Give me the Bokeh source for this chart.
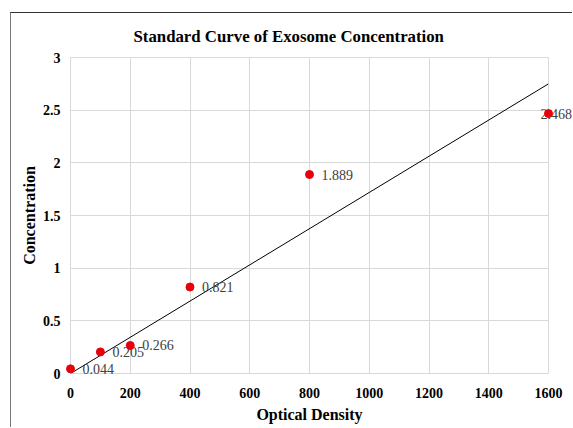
from bokeh.plotting import figure
from bokeh.models import ColumnDataSource, Range1d, FixedTicker
from bokeh.embed import file_html
from bokeh.resources import INLINE
from bokeh.core.properties import value

# ---- data ----
optical_density = [0, 100, 200, 400, 800, 1600]
concentration = [0.044, 0.205, 0.266, 0.821, 1.889, 2.468]
point_labels = ["0.044", "0.205", "0.266", "0.821", "1.889", "2.468"]
trend_x = [0, 1600]
trend_y = [0.0, 2.75]
x_ticks = [0, 200, 400, 600, 800, 1000, 1200, 1400, 1600]
y_ticks = [0, 0.5, 1, 1.5, 2, 2.5, 3]
y_tick_labels = ["0", "0.5", "1", "1.5", "2", "2.5", "3"]

FONT = "Liberation Serif"

p = figure(width=562, height=415, output_backend="svg", toolbar_location=None,
           x_range=Range1d(0, 1600), y_range=Range1d(0, 3),
           min_border_left=59, min_border_right=25, min_border_top=43, min_border_bottom=55)
p.styles = {"border-top": "1px solid #333333", "border-left": "1px solid #777777",
            "margin-left": "10px", "margin-top": "12px"}

p.title.text = "Standard Curve of Exosome Concentration"
p.title.text_font = FONT
p.title.text_font_size = "16.8px"
p.title.text_font_style = "bold"
p.title.text_color = "#000000"
p.title.align = "left"
p.title.offset = 63
p.title.standoff = 23

p.outline_line_color = "#d9d9d9"
p.background_fill_color = "white"
p.border_fill_color = "white"

for ax in (p.xaxis[0], p.yaxis[0]):
    ax.axis_line_color = None
    ax.major_tick_line_color = None
    ax.minor_tick_line_color = None
    ax.major_tick_out = 0
    ax.major_tick_in = 0
    ax.major_label_text_font = FONT
    ax.major_label_text_font_style = "bold"
    ax.major_label_text_font_size = "14px"
    ax.major_label_text_color = "#000000"
    ax.axis_label_text_font = FONT
    ax.axis_label_text_font_style = "bold"
    ax.axis_label_text_font_size = "16px"
    ax.axis_label_text_color = "#000000"

p.xaxis.ticker = FixedTicker(ticks=x_ticks)
p.yaxis.ticker = FixedTicker(ticks=y_ticks)
p.yaxis.major_label_overrides = {t: l for t, l in zip(y_ticks, y_tick_labels)}
p.xaxis.axis_label = "Optical Density"
p.yaxis.axis_label = "Concentration"
p.xaxis.major_label_standoff = 14
p.yaxis.major_label_standoff = 10
p.xaxis.axis_label_standoff = 5
p.yaxis.axis_label_standoff = 2

p.grid.grid_line_color = "#d9d9d9"
p.grid.grid_line_width = 1

# trendline
p.line(trend_x, trend_y, line_color="#000000", line_width=1)

# labels (drawn below points, not clipped)
offsets = [12, 12, 12, 12, 12, -8]
src = ColumnDataSource(dict(x=optical_density, y=concentration, t=point_labels, xo=offsets))
txt = p.text(x="x", y="y", text="t", source=src, x_offset="xo", y_offset=0,
             text_font=value(FONT), text_font_size="14px", text_color="#404040",
             text_baseline="middle", text_align="left")
txt.level = "overlay"

pts = p.scatter("x", "y", source=src, size=8, fill_color="#e8000b", line_color="#e8000b")
pts.level = "overlay"

open("out.html", "w").write(file_html(p, INLINE))
